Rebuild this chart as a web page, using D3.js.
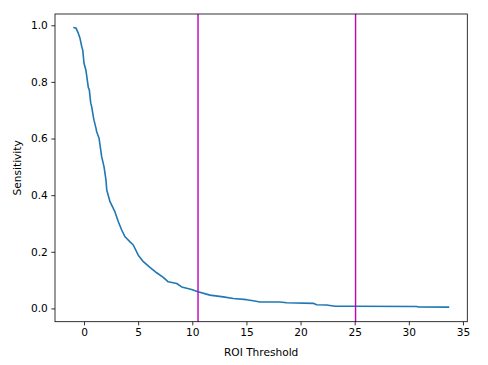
<!DOCTYPE html>
<html><head><meta charset="utf-8">
<script src="https://cdn.jsdelivr.net/npm/d3@7"></script>
<style>body{margin:0;background:#fff}svg{display:block}text{font-family:"DejaVu Sans",sans-serif}</style>
</head><body><div id="chart"></div>
<script>
const thresholds = [-0.99,-0.74,-0.53,-0.37,-0.21,-0.12,0.0,0.18,0.40,0.49,0.62,0.71,0.86,0.92,1.11,1.17,1.39,1.41,1.63,1.85,2.03,2.10,2.40,2.86,3.17,3.48,3.79,4.25,4.55,5.01,5.48,6.09,6.71,7.32,7.78,8.56,9.02,9.94,10.53,11.63,12.86,13.79,15.02,15.63,16.25,18.10,18.72,21.17,21.49,22.41,23.18,24.87,30.72,30.9,33.73];
const sensitivity = [0.992,0.990,0.972,0.954,0.925,0.913,0.866,0.840,0.780,0.772,0.725,0.712,0.677,0.665,0.636,0.624,0.601,0.595,0.536,0.500,0.453,0.418,0.377,0.341,0.306,0.277,0.253,0.235,0.224,0.188,0.165,0.145,0.126,0.110,0.094,0.088,0.076,0.067,0.059,0.047,0.041,0.035,0.031,0.027,0.023,0.023,0.020,0.018,0.013,0.012,0.008,0.008,0.007,0.005,0.0046];
const cutoffs = [10.53, 25.08];
const xTicks = [0,5,10,15,20,25,30,35];
const yTicks = [0.0,0.2,0.4,0.6,0.8,1.0];

const W=488,H=365, L=55, R=467.3, T=14, B=321.7;
const svg=d3.select("#chart").append("svg").attr("width",W).attr("height",H);
const x=d3.scaleLinear().domain([-2.68,35.4]).range([L,R]);
const y=d3.scaleLinear().domain([-0.0468,1.0398]).range([B,T]);
const fs=10.6;

const gx=svg.append("g").attr("transform",`translate(0,${B})`)
  .call(d3.axisBottom(x).tickValues(xTicks).tickFormat(d3.format("d")).tickSizeOuter(0).tickSize(3.7).tickPadding(3.5));
const gy=svg.append("g").attr("transform",`translate(${L},0)`)
  .call(d3.axisLeft(y).tickValues(yTicks).tickFormat(d3.format(".1f")).tickSizeOuter(0).tickSize(3.7).tickPadding(3.5));
[gx,gy].forEach(g=>{
  g.select(".domain").remove();
  g.selectAll("line").attr("stroke","#000").attr("stroke-width",0.8);
  g.selectAll("text").attr("font-size",fs).attr("fill","#000").style("font-family","DejaVu Sans");
});

svg.append("path").datum(thresholds.map((t,i)=>[t,sensitivity[i]]))
  .attr("fill","none").attr("stroke","#1f77b4").attr("stroke-width",1.6).attr("stroke-linejoin","round").attr("stroke-linecap","butt")
  .attr("d",d3.line().x(d=>x(d[0])).y(d=>y(d[1])));

svg.selectAll(".cut").data(cutoffs).enter().append("line")
  .attr("x1",d=>x(d)).attr("x2",d=>x(d)).attr("y1",T).attr("y2",B)
  .attr("stroke","#bf00bf").attr("stroke-width",1.4);

svg.append("rect").attr("x",L).attr("y",T).attr("width",R-L).attr("height",B-T)
  .attr("fill","none").attr("stroke","#000").attr("stroke-width",0.8);

svg.append("text").attr("x",(L+R)/2).attr("y",356).attr("text-anchor","middle").attr("font-size",fs).text("ROI Threshold");
svg.append("text").attr("transform",`translate(21,${(T+B)/2}) rotate(-90)`).attr("text-anchor","middle").attr("font-size",fs).text("Sensitivity");
</script></body></html>
